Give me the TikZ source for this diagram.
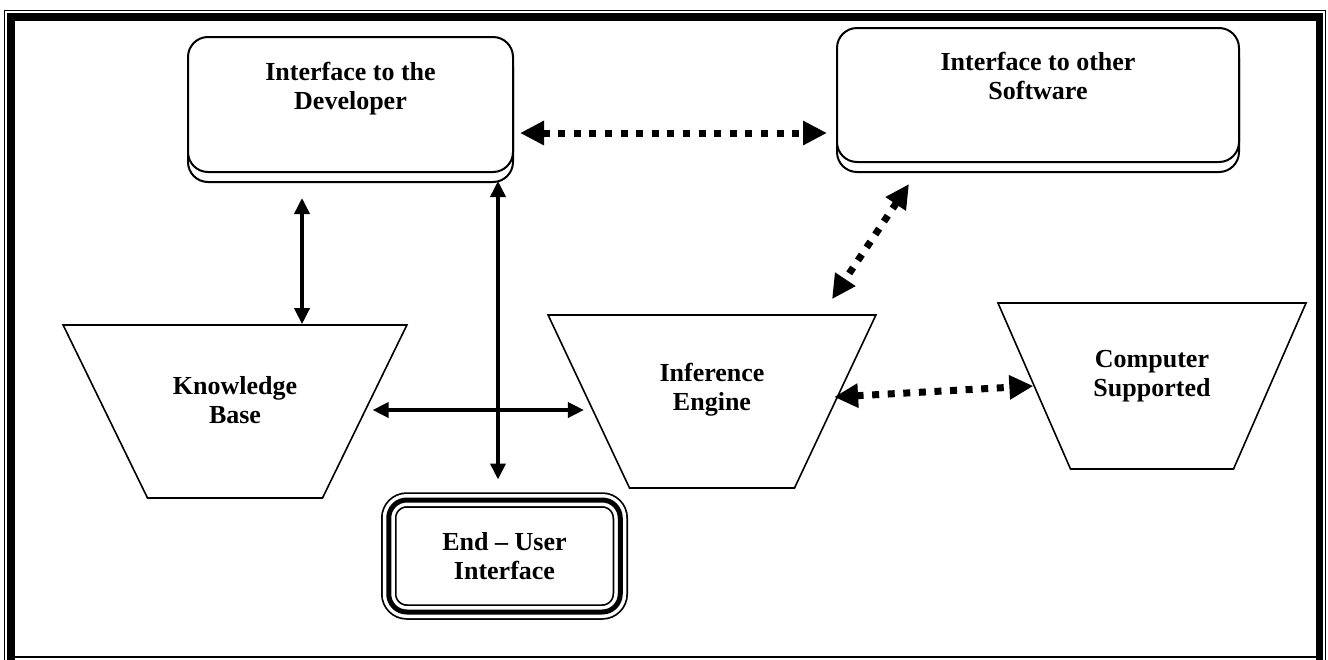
\documentclass[tikz,border=0pt]{standalone}
\usepackage{fontspec}
\setmainfont{Liberation Serif}
\usetikzlibrary{shapes.geometric,shadows,arrows.meta,calc}

\begin{document}
\begin{tikzpicture}[x=0.5pt,y=-0.5pt,
   every node/.style={font=\bfseries\fontsize{13}{14.5}\selectfont,align=center},
   ibox/.style={draw,fill=white,line width=1pt,rounded corners=10pt,
      copy shadow={shadow xshift=0pt,shadow yshift=-5pt,draw=black,fill=white,line width=1pt}},
   ubox/.style={rounded corners=9pt,preaction={draw,line width=7.75pt},
      preaction={draw,white,line width=6pt},draw,line width=2.5pt},
   trap/.style={draw,trapezium,shape border rotate=180,line width=0.8pt,
      inner sep=0pt,text depth=0pt},
   solidarr/.style={line width=1.8pt,
      {Triangle[length=8pt,width=7.5pt]}-{Triangle[length=8pt,width=7.5pt]}},
   dotarr/.style={line width=3.5pt,dash pattern=on 3.5pt off 4.3pt,
      {Triangle[length=12pt,width=11.5pt]}-{Triangle[length=12pt,width=11.5pt]}}]
   \useasboundingbox (0,0) rectangle (1328,659);
   \draw[line width=0.7pt] (4.5,662) -- (4.5,10.5) -- (1325.5,10.5) -- (1325.5,662);
   \draw[line width=3.7pt] (11,662) -- (11,17) -- (1319.5,17) -- (1319.5,662);
   \draw[line width=0.7pt] (11,657) -- (1319.5,657);

   \node (devbox)   at (350.5,104.5) [ibox,minimum width=162.5pt,minimum height=67.5pt] {};
   \node (devtext)  at ([yshift=8pt]devbox.center) {Interface to the\\Developer};
   \node (other)    at (1038,95) [ibox,minimum width=201pt,minimum height=67pt] {};
   \node (othtext)  at ([yshift=9.5pt]other.center) {Interface to other\\Software};
   \node (kbase)    at (235,411.5) [trap,trapezium angle=64,text width=87.5pt,text height=86.5pt] {};
   \node (kbtext)   at ([yshift=5.75pt]kbase.center) {Knowledge\\Base};
   \node (infer)    at (712,401.5) [trap,trapezium angle=64.8,text width=82.5pt,text height=86.5pt] {};
   \node (inftext)  at ([yshift=5.75pt]infer.center) {Inference\\Engine};
   \node (comp)     at (1152,386) [trap,trapezium angle=66.4,text width=81.5pt,text height=83pt] {};
   \node (comptext) at ([yshift=5pt]comp.center) {Computer\\Supported};
   \node (enduser)  at (504.5,556) [ubox,minimum width=115.75pt,minimum height=56pt] {End -- User\\Interface};

   \draw[dotarr]   ($(devbox.east)+(6,28.5)$) to ($(other.west)+(-9,38)$);
   \draw[dotarr]   ($(other.south west)+(73,21)$) to ($(infer.north)+(120,-15)$);
   \draw[dotarr]   ($(infer.east)+(-2,-4.5)$) to (comp.west);
   \draw[solidarr] ($(devbox.south)+(-48.5,25)$) to ($(kbase.north)+(67,0)$);
   \draw[solidarr] ($(devbox.south)+(147.5,8)$) to ($(enduser.north)+(-6.5,-18)$);
   \draw[solidarr] ($(kbase.east)+(7,-1.5)$) to ($(infer.west)+(-4,8.5)$);
  \end{tikzpicture}
\end{document}
